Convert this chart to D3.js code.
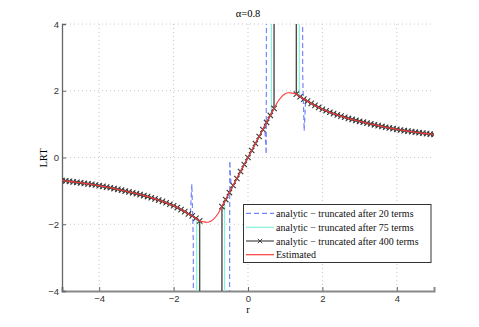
<!DOCTYPE html>
<html><head><meta charset="utf-8">
<script src="https://cdn.jsdelivr.net/npm/d3@7"></script>
<style>body{margin:0;background:#fff}svg{display:block}</style>
</head><body>
<script>
// ---- data ----
const rLeft = [-5.0,-4.9,-4.8,-4.7,-4.6,-4.5,-4.4,-4.3,-4.2,-4.1,-4.0,-3.9,-3.8,-3.7,-3.6,-3.5,-3.4,-3.3,-3.2,-3.1,-3.0,-2.9,-2.8,-2.7,-2.6,-2.5,-2.4,-2.3,-2.2,-2.1,-2.0,-1.9,-1.8,-1.7,-1.6,-1.5,-1.4,-1.3];
const yLeft = [-0.69,-0.702,-0.715,-0.729,-0.743,-0.758,-0.774,-0.79,-0.807,-0.825,-0.844,-0.864,-0.885,-0.907,-0.93,-0.955,-0.98,-1.005,-1.032,-1.058,-1.085,-1.11,-1.14,-1.17,-1.205,-1.24,-1.275,-1.315,-1.355,-1.40,-1.445,-1.50,-1.56,-1.62,-1.69,-1.75,-1.82,-1.90];
const rInner = [-0.7,-0.6,-0.5,-0.4,-0.3,-0.2,-0.1,0,0.1,0.2,0.3,0.4,0.5,0.6,0.7];
const yInner = [-1.47,-1.26,-1.05,-0.84,-0.63,-0.42,-0.21,0,0.21,0.42,0.63,0.84,1.05,1.26,1.47];
const rRight = [1.3,1.4,1.5,1.6,1.7,1.8,1.9,2.0,2.1,2.2,2.3,2.4,2.5,2.6,2.7,2.8,2.9,3.0,3.1,3.2,3.3,3.4,3.5,3.6,3.7,3.8,3.9,4.0,4.1,4.2,4.3,4.4,4.5,4.6,4.7,4.8,4.9,5.0];
const yRight = [1.90,1.82,1.75,1.69,1.62,1.56,1.50,1.445,1.40,1.355,1.315,1.275,1.24,1.205,1.17,1.14,1.11,1.085,1.058,1.032,1.005,0.98,0.955,0.93,0.907,0.885,0.864,0.844,0.825,0.807,0.79,0.774,0.758,0.743,0.729,0.715,0.702,0.69];
// estimated curve between the singular zones
const rEstMid = [-1.2,-1.1,-1.0,-0.9,-0.8,0.8,0.9,1.0,1.1,1.2];
const yEstMid = [-1.925,-1.94,-1.91,-1.82,-1.67,1.67,1.82,1.91,1.94,1.925];
// divergence spikes of truncated series
const rSpike400 = [-1.29,-0.71,0.71,1.29];
const ySpike400 = [-40,-40,40,40];
const rSpike75 = [-1.38,-1.37,-0.64,-0.63,0.63,0.64,1.37,1.38];
const ySpike75 = [-1.97,-40,-40,-1.38,1.38,40,40,1.97];
const rSpike20 = [-1.55,-1.51,-1.47,-1.44,-0.55,-0.49,-0.45,0.45,0.49,0.55,1.44,1.47,1.51,1.55];
const ySpike20 = [-1.73,-0.8,-2.5,-40,-40,-0.1,-0.95,0.95,0.1,40,40,2.5,0.8,1.73];
const xTicks = [-4,-2,0,2,4];
const yTicks = [-4,-2,0,2,4];
const legendLabels = ["analytic \u2212 truncated after 20 terms","analytic \u2212 truncated after 75 terms","analytic \u2212 truncated after 400 terms","Estimated"];
const titleText = "\u03b1=0.8", xLabel = "r", yLabel = "LRT";

// ---- build ----
const W=479,H=327, L=62,R=434,T=24,B=291;
const x=d3.scaleLinear().domain([-5,5]).range([L,R]);
const y=d3.scaleLinear().domain([-4,4]).range([B,T]);
const pts=(rs,ys)=>rs.map((r,i)=>[r,ys[i]]);
const left=pts(rLeft,yLeft), inner=pts(rInner,yInner), right=pts(rRight,yRight);
const byR=(a,b)=>a[0]-b[0];
const s400=[...left,...inner,...right,...pts(rSpike400,ySpike400)].sort(byR);
const s75=[...left.filter(d=>d[0]<=-1.4),...inner.filter(d=>Math.abs(d[0])<=0.6),...right.filter(d=>d[0]>=1.4),...pts(rSpike75,ySpike75)].sort(byR);
const s20=[...left.filter(d=>d[0]<=-1.6),...inner.filter(d=>Math.abs(d[0])<=0.4),...right.filter(d=>d[0]>=1.6),...pts(rSpike20,ySpike20)].sort(byR);
const est=[...left,...inner,...right,...pts(rEstMid,yEstMid)].sort(byR);
const markers=[...left,...inner,...right];

const svg=d3.select("body").append("svg").attr("width",W).attr("height",H);
svg.append("defs").append("clipPath").attr("id","clip").append("rect").attr("x",L).attr("y",T).attr("width",R-L).attr("height",B-T);

// grid
const g=svg.append("g");
g.selectAll(".vg").data(xTicks).enter().append("line").attr("x1",d=>x(d)).attr("x2",d=>x(d)).attr("y1",T).attr("y2",B)
 .attr("stroke","#c8c8c8").attr("stroke-width",1).attr("stroke-dasharray","1,3");
g.selectAll(".hg").data(yTicks.filter(d=>d>-4)).enter().append("line").attr("y1",d=>y(d)).attr("y2",d=>y(d)).attr("x1",L).attr("x2",R)
 .attr("stroke","#c8c8c8").attr("stroke-width",1).attr("stroke-dasharray","1,3");

// axes
const xa=svg.append("g").attr("transform",`translate(0,${B})`).call(d3.axisBottom(x).tickValues(xTicks).tickSize(-4).tickPadding(4).tickFormat(d=>d<0?"\u2212"+(-d):d));
const ya=svg.append("g").attr("transform",`translate(${L},0)`).call(d3.axisLeft(y).tickValues(yTicks).tickSize(-4).tickPadding(3).tickFormat(d=>d<0?"\u2212"+(-d):d));
[xa,ya].forEach(a=>{a.selectAll("text").attr("font-family","Liberation Sans, Arial, sans-serif").attr("font-size","9.5px").attr("fill","#333");
  a.selectAll(".tick line").attr("stroke","#666");});
xa.select(".domain").attr("stroke","#888").attr("stroke-width",2);
ya.select(".domain").attr("stroke","#666").attr("stroke-width",1.3);

// series
const line=d3.line().x(d=>x(d[0])).y(d=>y(d[1]));
const pg=svg.append("g").attr("clip-path","url(#clip)");
pg.append("path").attr("d",line(s20)).attr("fill","none").attr("stroke","#7486ff").attr("stroke-width",1.2).attr("stroke-dasharray","5,3");
pg.append("path").attr("d",line(s75)).attr("fill","none").attr("stroke","#86f2dc").attr("stroke-width",1.2);
pg.append("path").attr("d",line(s400)).attr("fill","none").attr("stroke","#4a4a4a").attr("stroke-width",1.4);
const m=2.7;
pg.selectAll(".mk").data(markers).enter().append("path")
 .attr("d",d=>{const cx=x(d[0]),cy=y(d[1]);return `M${cx-m},${cy-m}L${cx+m},${cy+m}M${cx-m},${cy+m}L${cx+m},${cy-m}`;})
 .attr("stroke","#3a3a3a").attr("stroke-width",1.1).attr("fill","none");
pg.append("path").attr("d",d3.line().curve(d3.curveMonotoneX).x(d=>x(d[0])).y(d=>y(d[1]))(est)).attr("fill","none").attr("stroke","#ff3b3b").attr("stroke-width",1.1);

// labels
const serif="Liberation Serif, Times New Roman, serif";
svg.append("text").attr("x",248).attr("y",17).attr("text-anchor","middle").attr("font-family",serif).attr("font-size","10.5px").text(titleText);
svg.append("text").attr("x",248).attr("y",313).attr("text-anchor","middle").attr("font-family",serif).attr("font-size","10.5px").text(xLabel);
svg.append("text").attr("transform","translate(47,158) rotate(-90)").attr("text-anchor","middle").attr("font-family",serif).attr("font-size","10.5px").text(yLabel);

// legend
const lg=svg.append("g");
lg.append("rect").attr("x",243.5).attr("y",204.5).attr("width",187.5).attr("height",58).attr("fill","#fff").attr("stroke","#333").attr("stroke-width",1);
const ly=[213.3,227.3,241,254.7];
const styles=[{c:"#7486ff",d:"5,3"},{c:"#86f2dc",d:null},{c:"#4a4a4a",d:null},{c:"#ff3b3b",d:null}];
legendLabels.forEach((t,i)=>{
  const l=lg.append("line").attr("x1",246).attr("x2",274).attr("y1",ly[i]).attr("y2",ly[i]).attr("stroke",styles[i].c).attr("stroke-width",1.2);
  if(styles[i].d) l.attr("stroke-dasharray",styles[i].d);
  if(i===2){const cx=260,cy=ly[i],mm=2.2;lg.append("path").attr("d",`M${cx-mm},${cy-mm}L${cx+mm},${cy+mm}M${cx-mm},${cy+mm}L${cx+mm},${cy-mm}`).attr("stroke","#333").attr("stroke-width",0.9);}
  lg.append("text").attr("x",276).attr("y",ly[i]+3.5).attr("font-family",serif).attr("font-size","10px").attr("fill","#111").text(t);
});
</script>
</body></html>
